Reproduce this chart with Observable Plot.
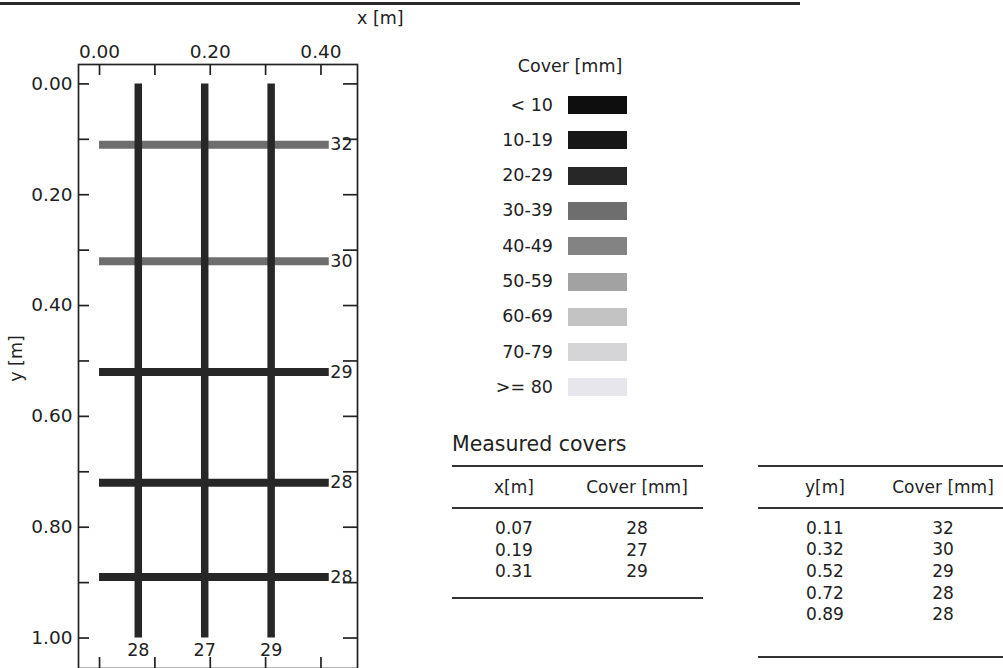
<!DOCTYPE html>
<html>
<head>
<meta charset="utf-8">
<script src="https://cdn.jsdelivr.net/npm/d3@7"></script>
<script src="https://cdn.jsdelivr.net/npm/@observablehq/plot@0.6"></script>
<style>
  html, body { margin: 0; padding: 0; background: #fff; overflow: hidden; }
  #page { position: relative; width: 1003px; height: 668px; overflow: hidden; font-family: "DejaVu Sans", sans-serif; color: #222; }
  .abs { position: absolute; white-space: nowrap; }
  .rule { position: absolute; height: 2px; background: #333; }
  #chart { position: absolute; left: 0; top: 0; }
</style>
</head>
<body>
<div id="page">
  <div id="chart"></div>
</div>
<script>
// ---- data ----
const xBarPositions = [0.07, 0.19, 0.31];          // x [m] of vertical bars
const xBarCovers    = [28, 27, 29];                // cover [mm]
const yBarPositions = [0.11, 0.32, 0.52, 0.72, 0.89]; // y [m] of horizontal bars
const yBarCovers    = [32, 30, 29, 28, 28];        // cover [mm]
const verticalSpan   = [0, 1.00];                  // y extent of vertical scans [m]
const horizontalSpan = [0, 0.415];                 // x extent of horizontal scans [m]

const coverThresholds = [10, 20, 30, 40, 50, 60, 70, 80];
const coverLabels = ["< 10", "10-19", "20-29", "30-39", "40-49", "50-59", "60-69", "70-79", ">= 80"];
const coverColors = ["#0e0e0e", "#171717", "#272727", "#6e6e6e", "#838383", "#a2a2a2", "#c3c3c3", "#d5d5d7", "#e6e6ec"];

const xTicks = [0, 0.1, 0.2, 0.3, 0.4];
const xTickLabels = [0, 0.2, 0.4];
const yTicks = [0, 0.1, 0.2, 0.3, 0.4, 0.5, 0.6, 0.7, 0.8, 0.9, 1.0];
const yTickLabels = [0, 0.2, 0.4, 0.6, 0.8, 1.0];

const tableX = { title: "Measured covers", headers: ["x[m]", "Cover [mm]"], col1: ["0.07", "0.19", "0.31"], col2: xBarCovers };
const tableY = { headers: ["y[m]", "Cover [mm]"], col1: ["0.11", "0.32", "0.52", "0.72", "0.89"], col2: yBarCovers };

// ---- chart ----
const verticals = xBarPositions.map((x, i) => ({x, cover: xBarCovers[i]}));
const horizontals = yBarPositions.map((y, i) => ({y, cover: yBarCovers[i]}));

const W = 420, H = 680, mL = 78, mR = 63, mT = 64, mB = 12;
const frameW = W - mL - mR, frameH = H - mT - mB;
const tickLen = 11;
const fmt = d3.format(".2f");

const chart = Plot.plot({
  width: W, height: H,
  marginLeft: mL, marginRight: mR, marginTop: mT, marginBottom: mB,
  style: {fontFamily: "DejaVu Sans", fontSize: "18.5px", background: "transparent", color: "#222", overflow: "visible"},
  x: {domain: [-0.038, 0.466]},
  y: {domain: [-0.035, 1.055], reverse: true},
  color: {type: "threshold", domain: coverThresholds, range: coverColors},
  marks: [
    Plot.frame({stroke: "#222", strokeWidth: 1.7}),
    Plot.tickX(xTicks, {x: d => d, insetBottom: frameH - tickLen, stroke: "#222", strokeWidth: 1.7}),
    Plot.tickX(xTicks, {x: d => d, insetTop: frameH - tickLen, stroke: "#222", strokeWidth: 1.7}),
    Plot.tickY(yTicks, {y: d => d, insetRight: frameW - tickLen, stroke: "#222", strokeWidth: 1.7}),
    Plot.tickY(yTicks, {y: d => d, insetLeft: frameW - 14, stroke: "#222", strokeWidth: 1.7}),
    Plot.axisX({anchor: "top", ticks: xTickLabels, tickSize: 0, tickPadding: 7, tickFormat: fmt, label: null, fill: "#222"}),
    Plot.axisY({anchor: "left", ticks: yTickLabels, tickSize: 0, tickPadding: 6, tickFormat: fmt, label: null, fill: "#222"}),
    Plot.ruleY(horizontals, {y: "y", x1: horizontalSpan[0], x2: horizontalSpan[1], stroke: d => d.cover, strokeWidth: 8}),
    Plot.ruleX(verticals, {x: "x", y1: verticalSpan[0], y2: verticalSpan[1], stroke: d => d.cover, strokeWidth: 7.5}),
    Plot.text(horizontals, {x: horizontalSpan[1], y: "y", text: "cover", textAnchor: "start", dx: 1, fontSize: 17.5, fill: "#222"}),
    Plot.text(verticals, {x: "x", y: verticalSpan[1], text: "cover", dy: 12, fontSize: 17.5, fill: "#222"})
  ]
});
document.getElementById("chart").appendChild(chart);

// ---- annotations, legend, tables ----
const page = document.getElementById("page");
function addDiv(cls, text, css) {
  const d = document.createElement("div");
  d.className = cls;
  if (text !== null) d.textContent = text;
  Object.assign(d.style, css);
  page.appendChild(d);
  return d;
}
function addText(text, x, yc, anchor, size) {
  const d = addDiv("abs", text, {top: (yc - size * 0.6) + "px", fontSize: size + "px", lineHeight: (size * 1.2) + "px"});
  if (anchor === "middle") { d.style.left = x + "px"; d.style.transform = "translateX(-50%)"; }
  else if (anchor === "end") { d.style.right = (1003 - x) + "px"; }
  else { d.style.left = x + "px"; }
  return d;
}
function addRule(x1, x2, y) {
  addDiv("rule", null, {left: x1 + "px", width: (x2 - x1) + "px", top: (y - 1) + "px"});
}

// page header rule
addDiv("rule", null, {left: "0px", width: "800px", top: "2px", height: "3px", background: "#2a2a2a"});

// axis titles
addText("x [m]", 357, 18, "start", 17.5);
const yl = addText("y [m]", 16, 358, "middle", 17.5);
yl.style.transform = "translate(-50%, 0) rotate(-90deg)";

// legend
addText("Cover [mm]", 570, 66, "middle", 17.5);
coverLabels.forEach((lab, i) => {
  const yc = 105 + i * 35.3;
  addText(lab, 553, yc, "end", 17.5);
  addDiv("abs", null, {left: "568px", top: (yc - 9) + "px", width: "59px", height: "18px", background: coverColors[i]});
});

// tables
addText(tableX.title, 452, 444, "start", 20.5);
function drawTable(t, x1, x2, c1, c2, top, rowStart, rowStep, bottom) {
  addRule(x1, x2, top);
  addText(t.headers[0], c1, top + 21, "middle", 17);
  addText(t.headers[1], c2, top + 21, "middle", 17);
  addRule(x1, x2, top + 42);
  t.col1.forEach((v, i) => {
    const yc = rowStart + i * rowStep;
    addText(v, c1, yc, "middle", 17);
    addText(String(t.col2[i]), c2, yc, "middle", 17);
  });
  addRule(x1, x2, bottom);
}
drawTable(tableX, 452, 703, 514, 637, 466, 528, 21.8, 598);
drawTable(tableY, 758, 1003, 825, 943, 466, 528, 21.6, 657);
</script>
</body>
</html>
